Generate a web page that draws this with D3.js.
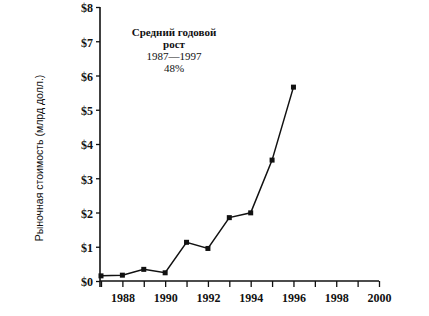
<!DOCTYPE html>
<html><head><meta charset="utf-8">
<script src="https://cdn.jsdelivr.net/npm/d3@7"></script>
<style>body{margin:0;background:#fff}</style>
</head><body>
<svg id="c" width="429" height="316"></svg>
<script>
const years = [1987,1988,1989,1990,1991,1992,1993,1994,1995,1996];
const values = [0.15,0.17,0.34,0.24,1.13,0.95,1.85,1.99,3.53,5.66];
const xTickLabels = [1988,1990,1992,1994,1996,1998,2000];
const yTicks = [0,1,2,3,4,5,6,7,8];
const titleLines = ["Средний годовой","рост","1987—1997","48%"];
const yLabel = "Рыночная стоимость (млрд долл.)";

const svg = d3.select("#c");
const x = d3.scaleLinear().domain([1987,2000]).range([101,379]);
const y = d3.scaleLinear().domain([0,8]).range([281,7]);
const ink = "#111";

// y axis
const ya = svg.append("g").attr("transform","translate(100,0)")
  .call(d3.axisLeft(y).tickValues(yTicks).tickSize(4).tickPadding(3).tickFormat(d=>"$"+d));
ya.select(".domain").attr("stroke",ink).attr("stroke-width",1.6).attr("d","M0,"+y(8)+"V"+(y(0)+6));
ya.selectAll(".tick line").attr("stroke",ink).attr("stroke-width",1.3);
ya.selectAll(".tick text").attr("fill",ink).attr("font-family","Liberation Serif").attr("font-size",12).attr("font-weight","bold").attr("dy","0.4em");

// x axis
const xa = svg.append("g").attr("transform","translate(0,"+y(0)+")")
  .call(d3.axisBottom(x).tickValues(d3.range(1987,2001)).tickSize(6).tickPadding(6)
    .tickFormat(d=>xTickLabels.includes(d)?String(d):""));
xa.select(".domain").attr("stroke",ink).attr("stroke-width",1.6).attr("d","M100,0H"+x(2000));
xa.selectAll(".tick line").attr("stroke",ink).attr("stroke-width",1.3);
xa.selectAll(".tick text").attr("fill",ink).attr("font-family","Liberation Serif").attr("font-size",12).attr("font-weight","bold");

// line
const pts = years.map((d,i)=>[d,values[i]]);
svg.append("path").datum(pts)
  .attr("d",d3.line().x(d=>x(d[0])).y(d=>y(d[1])))
  .attr("fill","none").attr("stroke",ink).attr("stroke-width",1.5);
svg.selectAll("rect.m").data(pts).enter().append("rect").attr("class","m")
  .attr("x",d=>x(d[0])-2.5).attr("y",d=>y(d[1])-2.5).attr("width",5).attr("height",5).attr("fill",ink);

// annotation
titleLines.forEach((s,i)=>{
  svg.append("text").attr("text-anchor","middle").attr("font-family","Liberation Serif").attr("fill",ink)
   .attr("font-size",11).attr("x",174).attr("y",[36,48,60,72][i]).text(s)
   .attr("font-weight", i<2 ? "bold":"normal");
});

// y label
svg.append("text").attr("transform","translate(43,158) rotate(-90)")
  .attr("text-anchor","middle").attr("font-family","Liberation Sans").attr("font-size",10.5).attr("fill",ink)
  .text(yLabel);
</script>
</body></html>
